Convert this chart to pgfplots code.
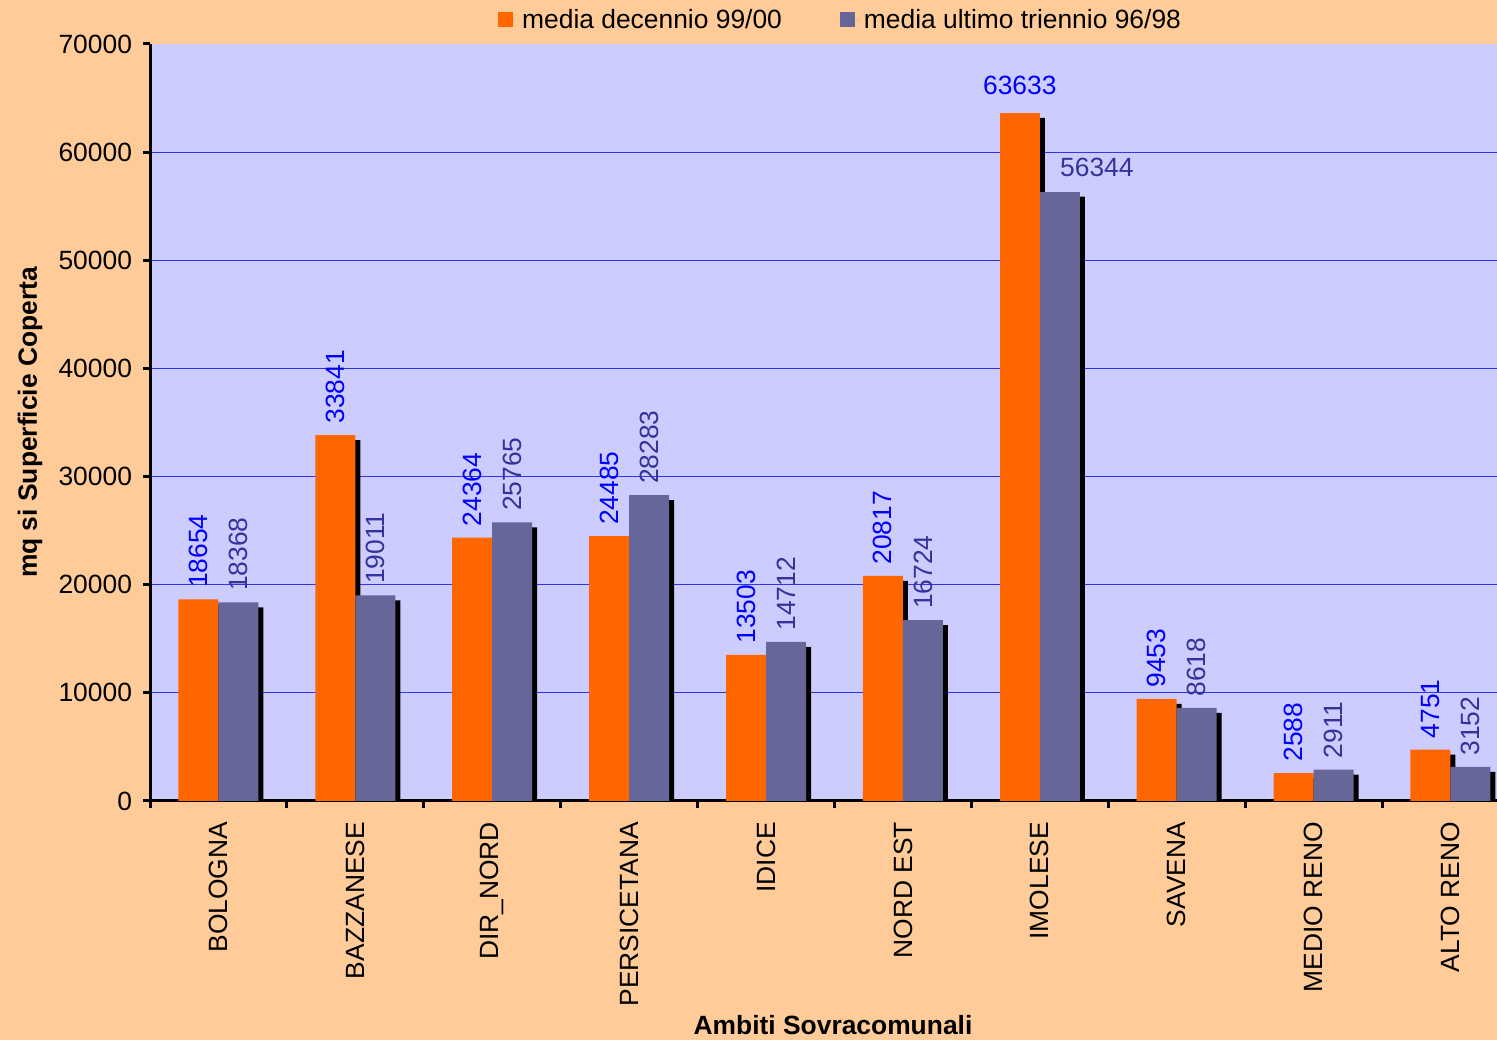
\documentclass[border=0pt]{standalone}
\usepackage{pgfplots}
\pgfplotsset{compat=1.18}
\usepackage{fontspec}
\setmainfont{Liberation Sans}
\definecolor{peach}{HTML}{FFCC99}
\definecolor{lav}{HTML}{CCCCFF}
\definecolor{baror}{HTML}{FF6600}
\definecolor{bargr}{HTML}{666699}
\definecolor{labblue}{HTML}{0000FF}
\definecolor{labgr}{HTML}{333399}
\definecolor{gridblue}{HTML}{3333EE}
\newcommand\fs{\fontsize{13.2bp}{15bp}\selectfont}
\begin{document}
\begin{tikzpicture}[x=1bp,y=1bp]
\fill[peach] (0,0) rectangle (748.5,520);
\path[use as bounding box] (0,0) rectangle (748.5,520);
\begin{axis}[
  ybar, bar width=20bp,
  at={(75bp,119.5bp)}, anchor=south west,
  scale only axis, width=673.5bp, height=378.5bp,
  xmin=-0.5, xmax=9.34, ymin=0, ymax=70000,
  axis background/.style={fill=lav},
  separate axis lines,
  axis x line=bottom, axis y line=left,
  axis line style={-, line width=1.5bp, black},
  ytick={0,10000,...,60000},
  extra y ticks={70000},
  extra y tick style={grid=none},
  scaled y ticks=false,
  /pgf/number format/.cd, 1000 sep={}, assume math mode=true, /pgfplots/.cd,
  xtick={0,...,9},
  xticklabels={BOLOGNA,BAZZANESE,DIR\_NORD,PERSICETANA,IDICE,NORD EST,IMOLESE,SAVENA,MEDIO RENO,ALTO RENO},
  minor xtick={-0.5,0.5,...,8.5},
  major x tick style={draw=none},
  minor x tick style={line width=1.5bp, black},
  major y tick style={line width=1.5bp, black},
  minor tick length=3.5bp, major tick length=3.5bp,
  tick align=outside,
  ymajorgrids,
  major grid style={draw=gridblue, line width=0.5bp},
  xticklabel style={font=\fs, rotate=90, anchor=east, xshift=-3.5bp},
  yticklabel style={font=\fs, xshift=-2bp},
  ylabel={\bfseries mq si Superficie Coperta},
  ylabel style={font=\fs, at={(axis description cs:-0.0891,0.5)}, anchor=center},
  xlabel={\bfseries Ambiti Sovracomunali},
  xlabel style={font=\fs, at={(axis description cs:0.5,0)}, anchor=center, yshift=-112bp, xshift=4.75bp},
  legend style={font=\fs, at={(axis description cs:0.5134,1)}, anchor=center, yshift=12bp,
    draw=none, fill=none, legend columns=2,
    /tikz/every even column/.append style={column sep=27bp}},
  legend image code/.code={\path (0bp,0bp) -- (10bp,0bp);\fill[#1,draw=none] (0bp,-3.75bp) rectangle (7.5bp,3.75bp);},
]
% orange shadow
\addplot[forget plot, fill=black, draw=none, bar shift=-7.5bp, yshift=-2.5bp]
  coordinates {(0,18654) (1,33841) (2,24364) (3,24485) (4,13503) (5,20817) (6,63633) (7,9453) (8,2588) (9,4751)};
% orange bars
\addplot[fill=baror, draw=none, bar shift=-10bp,
  nodes near coords, nodes near coords style={font=\fs, text=labblue, rotate=90, anchor=west, inner xsep=5.5bp, inner ysep=0pt}]
  coordinates {(0,18654) (1,33841) (2,24364) (3,24485) (4,13503) (5,20817) (7,9453) (8,2588) (9,4751)};
\addplot[forget plot, fill=baror, draw=none, bar shift=-10bp,
  nodes near coords, nodes near coords style={font=\fs, text=labblue, anchor=south, inner sep=0pt, yshift=9bp}]
  coordinates {(6,63633)};
% gray shadow
\addplot[forget plot, fill=black, draw=none, bar shift=12.5bp, yshift=-2.5bp]
  coordinates {(0,18368) (1,19011) (2,25765) (3,28283) (4,14712) (5,16724) (6,56344) (7,8618) (8,2911) (9,3152)};
% gray bars
\addplot[fill=bargr, draw=none, bar shift=10bp,
  nodes near coords, nodes near coords style={font=\fs, text=labgr, rotate=90, anchor=west, inner xsep=5.5bp, inner ysep=0pt}]
  coordinates {(0,18368) (1,19011) (2,25765) (3,28283) (4,14712) (5,16724) (7,8618) (8,2911) (9,3152)};
\addplot[forget plot, fill=bargr, draw=none, bar shift=10bp,
  nodes near coords, nodes near coords style={font=\fs, text=labgr, anchor=south west, inner sep=0pt, yshift=7.5bp}]
  coordinates {(6,56344)};
\legend{media decennio 99/00, media ultimo triennio 96/98}
\end{axis}
\end{tikzpicture}
\end{document}
